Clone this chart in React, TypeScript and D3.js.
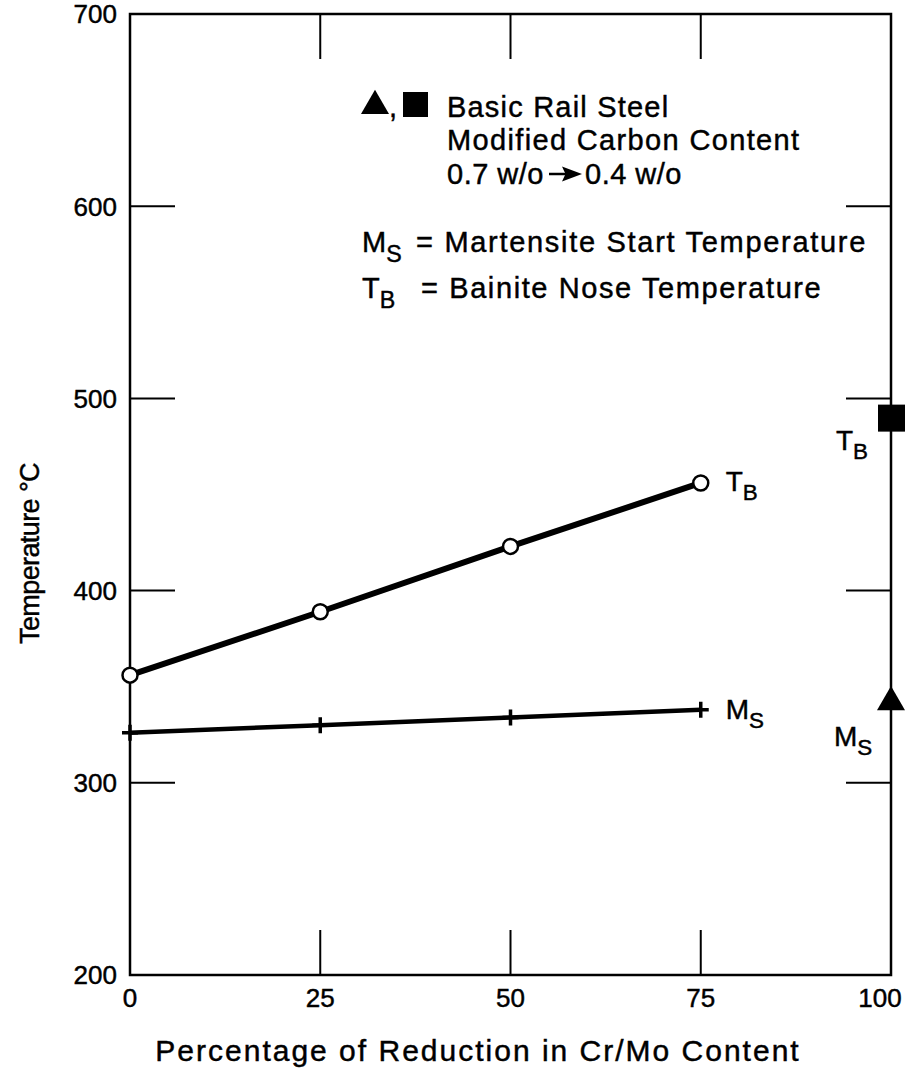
import React from 'react';
import * as d3 from 'd3';

// Cr/Mo reduction series
const reduction = [0, 25, 50, 75];
const bainiteNose = [356, 389, 423, 456];
const martensiteStart = [326, 330, 334, 338];

// Basic rail steel, modified carbon content (0.7 -> 0.4 w/o)
const basicReduction = 100;
const basicBainiteNose = 490;
const basicMartensiteStart = 343;

const xTicks = [0, 25, 50, 75, 100];
const yTicks = [200, 300, 400, 500, 600, 700];

const font = "'Liberation Sans', Arial, Helvetica, sans-serif";

const W = 921;
const H = 1088;

const Sub = ({ main, sub, size }: { main: string; sub: string; size: number }) => (
  <>
    <tspan>{main}</tspan>
    <tspan fontSize={size * 0.8} dy={size * 0.33}>{sub}</tspan>
  </>
);

export default function App() {
  const x = d3.scaleLinear().domain([0, 100]).range([130, 891]);
  const y = d3.scaleLinear().domain([200, 700]).range([975, 14]);

  const [x0, x1] = x.range();
  const [y0, y1] = y.range();

  const line = d3.line<[number, number]>()
    .x(d => x(d[0]))
    .y(d => y(d[1]));

  const tbData = reduction.map((r, i) => [r, bainiteNose[i]] as [number, number]);
  const msData = reduction.map((r, i) => [r, martensiteStart[i]] as [number, number]);

  const tickLen = 45;
  const lg = 29;
  const tri = d3.symbol(d3.symbolTriangle, 340)() || '';

  return (
    <svg width={W} height={H} style={{ position: 'absolute', left: 0, top: 0, background: '#fff' }}
      fontFamily={font}>
      <rect width={W} height={H} fill="#fff" />

      {/* frame */}
      <rect x={x0} y={y1} width={x1 - x0} height={y0 - y1} fill="none" stroke="#000" strokeWidth={2.5} />

      {/* y ticks, both sides, inward */}
      {yTicks.slice(1, -1).map(t => (
        <g key={'yt' + t}>
          <line x1={x0} x2={x0 + tickLen} y1={y(t)} y2={y(t)} stroke="#000" strokeWidth={2} />
          <line x1={x1} x2={x1 - tickLen} y1={y(t)} y2={y(t)} stroke="#000" strokeWidth={2} />
        </g>
      ))}
      {/* x ticks, top and bottom, inward */}
      {xTicks.slice(1, -1).map(t => (
        <g key={'xt' + t}>
          <line x1={x(t)} x2={x(t)} y1={y0} y2={y0 - tickLen} stroke="#000" strokeWidth={2} />
          <line x1={x(t)} x2={x(t)} y1={y1} y2={y1 + tickLen} stroke="#000" strokeWidth={2} />
        </g>
      ))}

      <g stroke="#000" strokeWidth={0.45}>
        {/* tick labels */}
        {yTicks.map(t => (
          <text key={'yl' + t} x={117} y={y(t)} dy="0.36em" textAnchor="end" fontSize={26}>{t}</text>
        ))}
        {xTicks.map(t => (
          <text key={'xl' + t} x={x(t) - (t === 100 ? 11 : 0)} y={1007} textAnchor="middle" fontSize={26}>{t}</text>
        ))}

        {/* axis titles */}
        <text transform={`translate(39,${(y0 + y1) / 2 + 59}) rotate(-90)`} textAnchor="middle" fontSize={27}
          letterSpacing={-0.6}>
          Temperature °C
        </text>
        <text x={478} y={1061} textAnchor="middle" fontSize={30} letterSpacing={2}>
          Percentage of Reduction in Cr/Mo Content
        </text>

        {/* series labels */}
        <text x={x(75) + 25} y={y(456) + 8} fontSize={28}><Sub main="T" sub="B" size={28} /></text>
        <text x={x(75) + 25} y={y(338) + 9} fontSize={28}><Sub main="M" sub="S" size={28} /></text>
        <text x={836} y={y(basicBainiteNose) + 32} fontSize={28}><Sub main="T" sub="B" size={28} /></text>
        <text x={834} y={y(basicMartensiteStart) + 46} fontSize={28}><Sub main="M" sub="S" size={28} /></text>

        {/* legend */}
        <text x={389} y={117} fontSize={lg}>,</text>
        <text x={447} y={117} fontSize={lg} letterSpacing={1.2}>Basic Rail Steel</text>
        <text x={447} y={150} fontSize={lg} letterSpacing={1.35}>Modified Carbon Content</text>
        <text x={447} y={184} fontSize={lg} letterSpacing={0.5}>0.7 w/o</text>
        <text x={585} y={184} fontSize={lg} letterSpacing={0.5}>0.4 w/o</text>

        <text x={362} y={252} fontSize={lg}><Sub main="M" sub="S" size={lg} /></text>
        <text x={416} y={252} fontSize={lg} letterSpacing={1.7}>= Martensite Start Temperature</text>
        <text x={362} y={298} fontSize={lg}><Sub main="T" sub="B" size={lg} /></text>
        <text x={421} y={298} fontSize={lg} letterSpacing={1.6}>= Bainite Nose Temperature</text>
      </g>

      {/* series lines */}
      <path d={line(tbData) || ''} fill="none" stroke="#000" strokeWidth={6} />
      <path d={line(msData) || ''} fill="none" stroke="#000" strokeWidth={4.5} />

      {/* M_S plus markers */}
      {msData.map((d, i) => (
        <path key={'ms' + i}
          d={`M${x(d[0]) - 8},${y(d[1])}h16M${x(d[0])},${y(d[1]) - 8}v16`}
          stroke="#000" strokeWidth={3.5} />
      ))}
      {/* T_B open circles */}
      {tbData.map((d, i) => (
        <circle key={'tb' + i} cx={x(d[0])} cy={y(d[1])} r={7.5} fill="#fff" stroke="#000" strokeWidth={2.5} />
      ))}

      {/* basic rail steel points */}
      <rect x={x(basicReduction) - 13} y={y(basicBainiteNose) - 13} width={27} height={27} fill="#000" />
      <path d={tri} transform={`translate(${x(basicReduction)},${y(basicMartensiteStart) + 2})`} fill="#000" />

      {/* legend symbols and arrow */}
      <path d={tri} transform="translate(375,106)" fill="#000" />
      <rect x={403} y={92} width={25} height={25} fill="#000" />
      <path d="M549,174H568" stroke="#000" strokeWidth={2.5} />
      <path d="M582,174L562,166.5L565.5,174L562,181.5Z" fill="#000" />
    </svg>
  );
}
